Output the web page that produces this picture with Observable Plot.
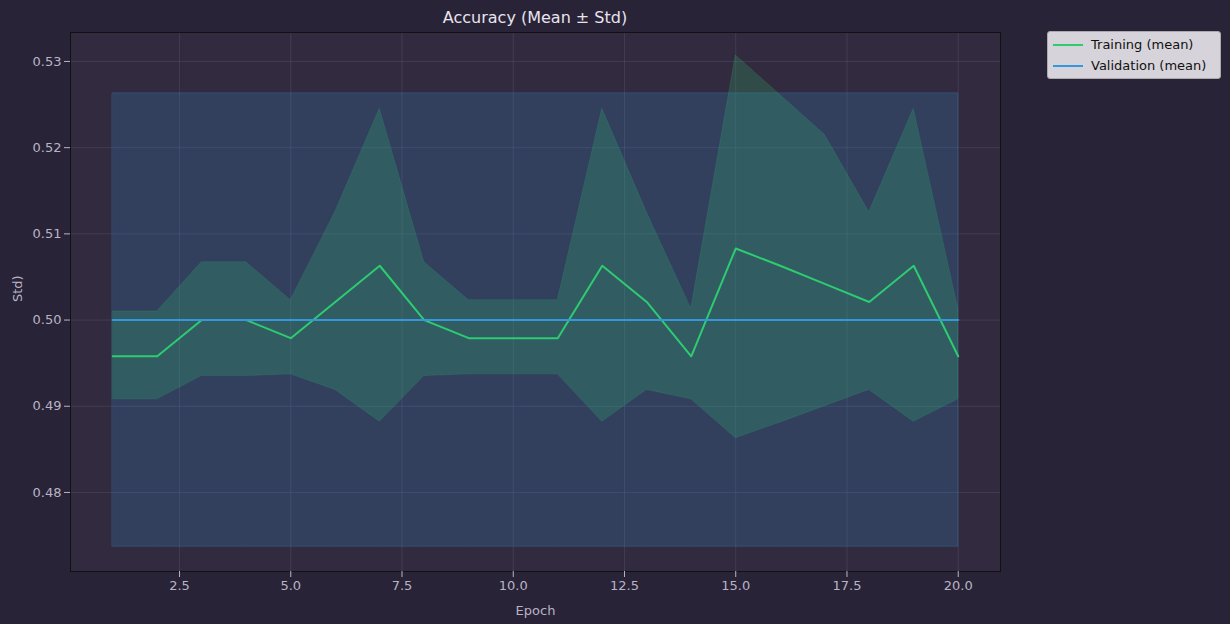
<!DOCTYPE html>
<html><head><meta charset="utf-8">
<script src="https://cdn.jsdelivr.net/npm/d3@7"></script>
<script src="https://cdn.jsdelivr.net/npm/@observablehq/plot@0.6"></script>
<style>
body{margin:0;background:#282336;font-family:"DejaVu Sans",sans-serif;}
#wrap{position:relative;width:1230px;height:624px;}
#title{position:absolute;left:70px;width:930px;top:8px;text-align:center;color:#e8e4ee;font-size:16px;}
#legend{position:absolute;left:1047px;top:31px;width:172px;background:#d6d4da;border:1px solid #aaa;border-radius:3px;font-size:13px;color:#111;padding:2px 0;}
.li{display:flex;align-items:center;height:21px;padding-left:5px;}
.sw{width:30px;height:0;border-top:2px solid;margin-right:8px;}
</style></head><body>
<div id="wrap"><div id="title">Accuracy (Mean ± Std)</div>
<div id="legend"><div class="li"><span class="sw" style="border-color:#2ecc71"></span>Training (mean)</div>
<div class="li"><span class="sw" style="border-color:#3498db"></span>Validation (mean)</div></div></div>
<script>
const epochs=[1,2,3,4,5,6,7,8,9,10,11,12,13,14,15,16,17,18,19,20];
const trainMean=[0.4958,0.4958,0.5,0.5,0.4979,0.5021,0.5063,0.5,0.4979,0.4979,0.4979,0.5063,0.5021,0.4958,0.5083,0.5063,0.5042,0.5021,0.5063,0.4958];
const trainUpper=[0.5010,0.5010,0.5067,0.5067,0.5023,0.5125,0.5245,0.5067,0.5023,0.5023,0.5023,0.5245,0.5125,0.5013,0.5307,0.5261,0.5215,0.5125,0.5245,0.5013];
const trainLower=[0.4908,0.4908,0.4935,0.4935,0.4937,0.4919,0.4882,0.4935,0.4937,0.4937,0.4937,0.4882,0.4919,0.4908,0.4863,0.4881,0.4900,0.4919,0.4882,0.4908];
const valMean=epochs.map(()=>0.5);
const valUpper=epochs.map(()=>0.5263);
const valLower=epochs.map(()=>0.4737);
const xTicks=[2.5,5,7.5,10,12.5,15,17.5,20];
const yTicks=[0.48,0.49,0.50,0.51,0.52,0.53];
const rows=epochs.map((e,i)=>({e,tm:trainMean[i],tu:trainUpper[i],tl:trainLower[i],vm:valMean[i],vu:valUpper[i],vl:valLower[i]}));
const chart=Plot.plot({
 width:1230,height:624,marginLeft:70,marginRight:230,marginTop:32,marginBottom:53,
 style:{background:"transparent",color:"#b9b3c6",fontSize:"13px",fontFamily:"DejaVu Sans"},
 x:{domain:[0.05,20.95],ticks:xTicks,tickFormat:d=>d.toFixed(1),label:null,tickSize:4},
 y:{domain:[0.47083,0.53336],ticks:yTicks,tickFormat:d=>d.toFixed(2),label:null,tickSize:4},
 marks:[
  Plot.frame({fill:"#322b3f"}),
  Plot.gridX(xTicks,{stroke:"#5a5470",strokeOpacity:0.4}),
  Plot.gridY(yTicks,{stroke:"#5a5470",strokeOpacity:0.4}),
  Plot.areaY(rows,{x:"e",y1:"vl",y2:"vu",fill:"#3498db",fillOpacity:0.2,stroke:"#3498db",strokeOpacity:0.25}),
  Plot.areaY(rows,{x:"e",y1:"tl",y2:"tu",fill:"#2ecc71",fillOpacity:0.2,stroke:"#2ecc71",strokeOpacity:0.15}),
  Plot.line(rows,{x:"e",y:"tm",stroke:"#2ecc71",strokeWidth:2}),
  Plot.line(rows,{x:"e",y:"vm",stroke:"#3498db",strokeWidth:2}),
  Plot.frame({stroke:"#111"}),
  Plot.axisX({ticks:xTicks,tickFormat:d=>d.toFixed(1),label:null,stroke:"#b9b3c6"}),
  Plot.axisY({ticks:yTicks,tickFormat:d=>d.toFixed(2),label:null,stroke:"#b9b3c6"}),
  Plot.text(["Epoch"],{frameAnchor:"bottom",dy:43,fill:"#b9b3c6",fontSize:13}),
  Plot.text(["Std)"],{frameAnchor:"left",dx:-53,rotate:-90,fill:"#b9b3c6",fontSize:13})
 ]});
chart.style.position="absolute";chart.style.left="0";chart.style.top="0";
document.getElementById("wrap").prepend(chart);
</script></body></html>
